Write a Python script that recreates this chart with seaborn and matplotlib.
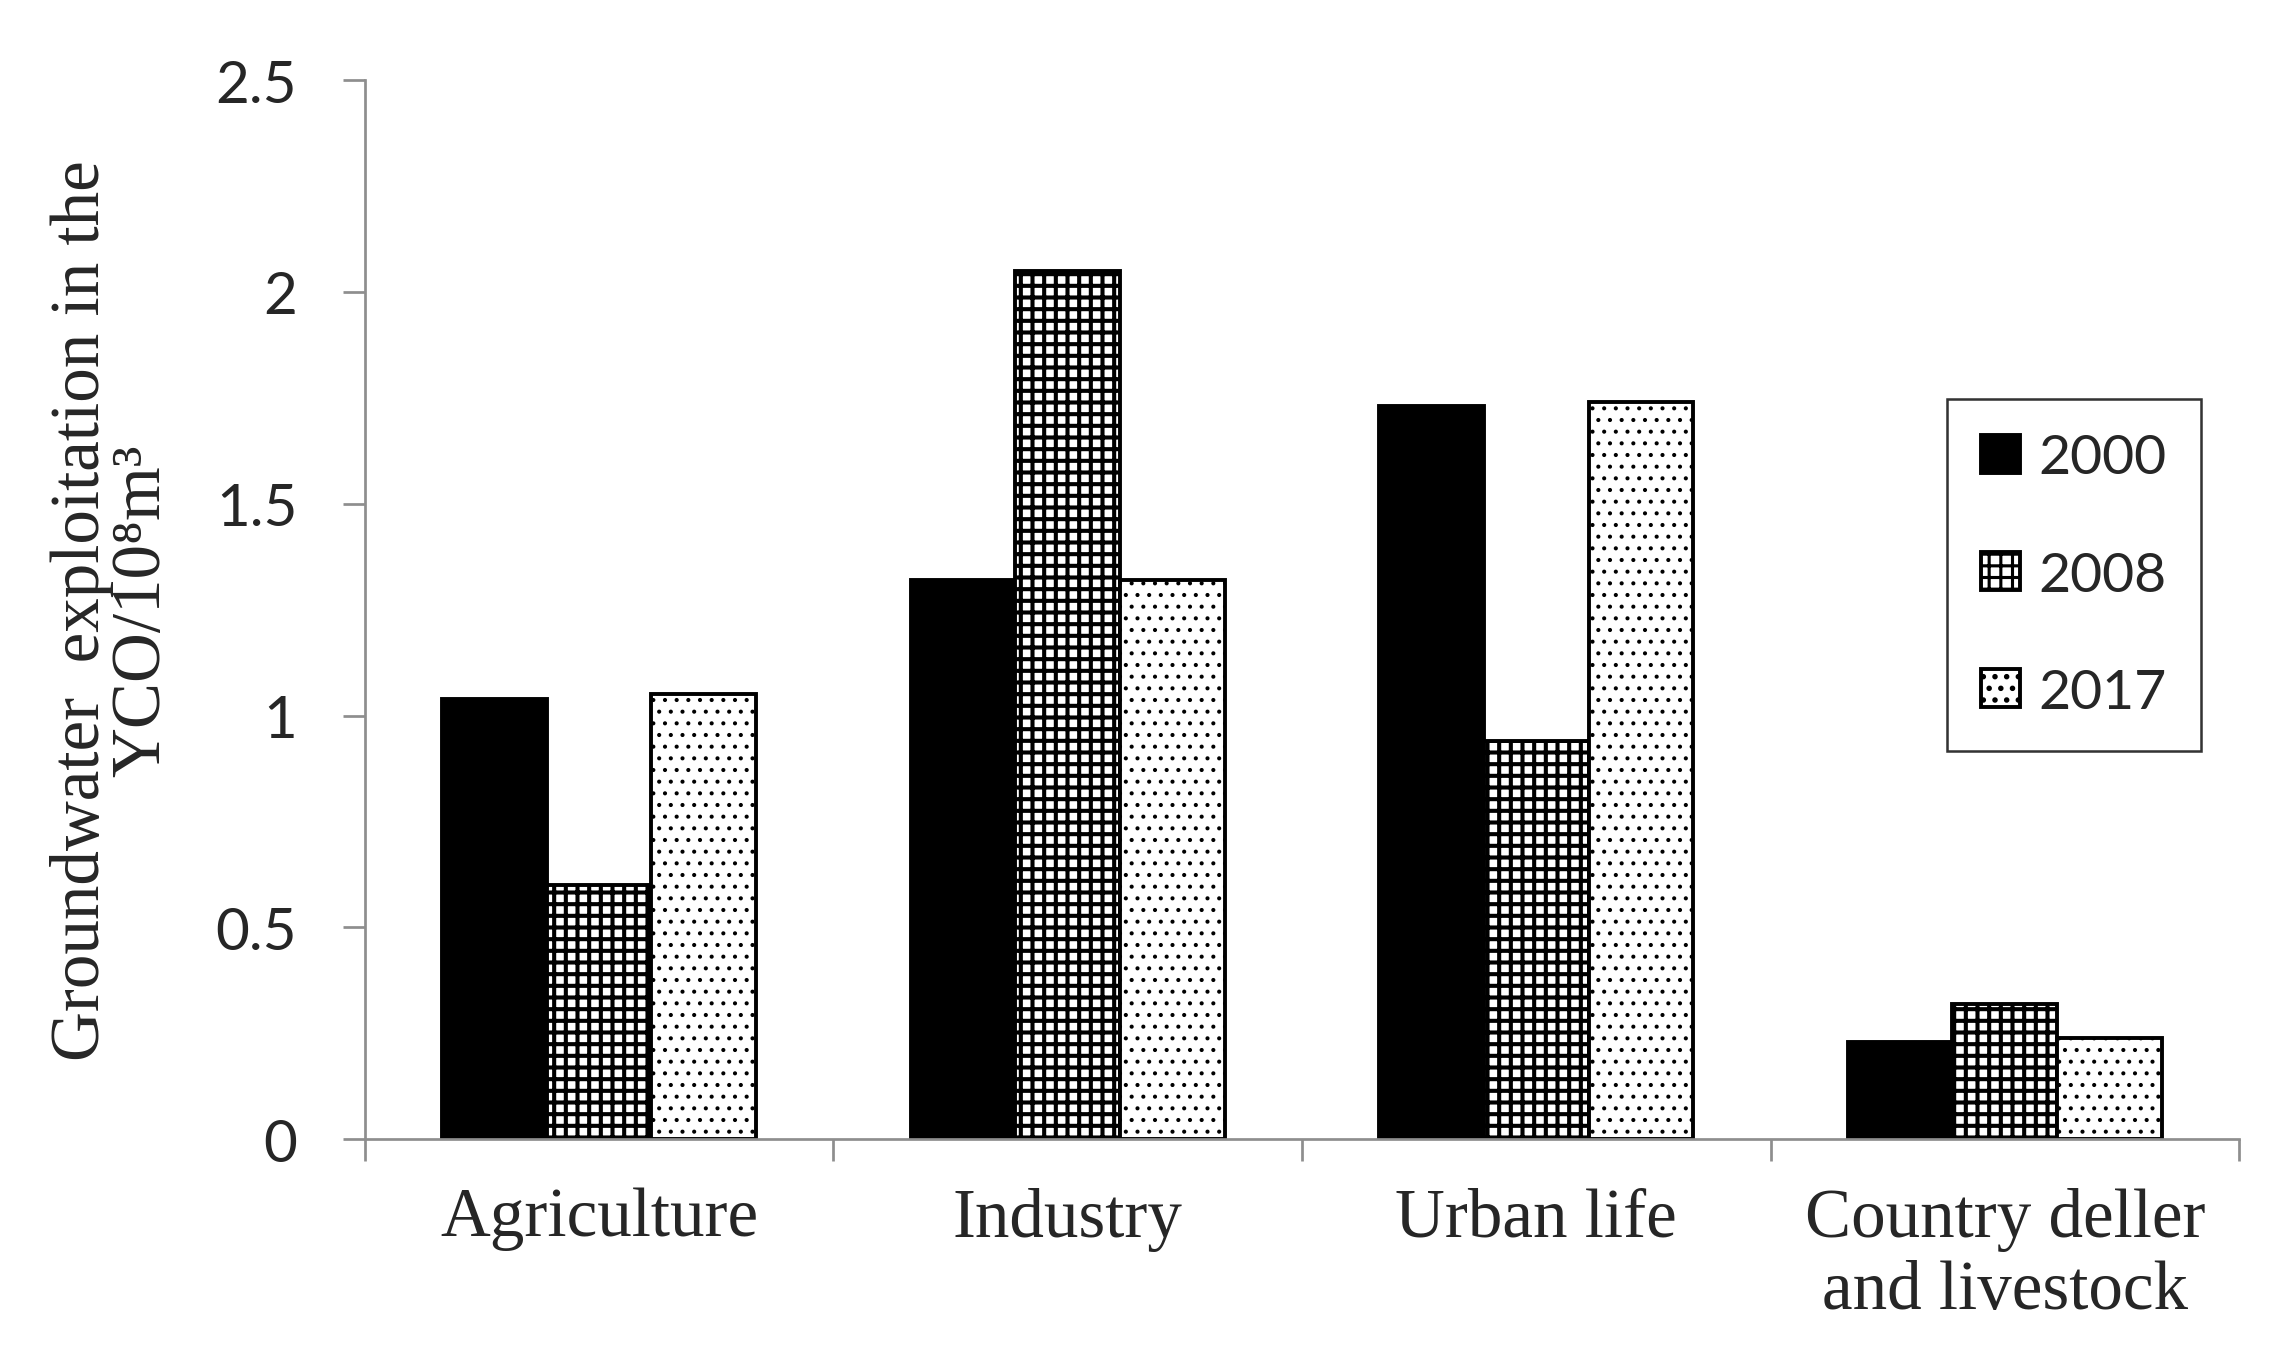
import matplotlib
matplotlib.use("Agg")
import matplotlib.pyplot as plt
import seaborn as sns
import pandas as pd
from matplotlib.ticker import FuncFormatter

# values (10^8 m^3)
sectors = ["Agriculture", "Industry", "Urban life", "Country deller\nand livestock"]
years = ["2000", "2008", "2017"]
v2000 = [1.04, 1.32, 1.73, 0.23]
v2008 = [0.60, 2.05, 0.94, 0.32]
v2017 = [1.05, 1.32, 1.74, 0.24]
yticks = [0, 0.5, 1, 1.5, 2, 2.5]

rows = []
for yr, vals in zip(years, [v2000, v2008, v2017]):
    for s, v in zip(sectors, vals):
        rows.append({"sector": s, "year": yr, "value": v})
df = pd.DataFrame(rows)

sns.set_style("white")
plt.rcParams["font.family"] = ["Liberation Serif", "DejaVu Serif"]
plt.rcParams["hatch.linewidth"] = 1.6

gray = "#8e8e8e"
DPI = 140
fig = plt.figure(figsize=(2275 / DPI, 1364 / DPI), dpi=DPI)
ax = fig.add_axes([0.1604, 0.164, 0.9842 - 0.1604, 0.9406 - 0.164])

sns.barplot(
    data=df, x="sector", y="value", hue="year",
    palette=["black", "white", "white"], saturation=1,
    width=0.67, edgecolor="black", linewidth=2.0,
    legend=False, ax=ax,
)

hatches = [None, "++", ".."]
hatch_lw = [1.0, 2.1, 0.9]
for cont, h, hl in zip(ax.containers, hatches, hatch_lw):
    for p in cont.patches:
        if h:
            p.set_hatch(h)
        if hasattr(p, "set_hatch_linewidth"):
            p.set_hatch_linewidth(hl)
        else:
            p._hatch_linewidth = hl
    cont.set_label(None)

ax.set_ylim(0, 2.5)
ax.set_xlim(-0.5, 3.5)
ax.set_yticks(yticks)
ax.yaxis.set_major_formatter(FuncFormatter(lambda v, _: f"{v:g}"))

sns.despine(ax=ax, top=True, right=True)
for side in ["left", "bottom"]:
    ax.spines[side].set_color(gray)
    ax.spines[side].set_linewidth(1.4)

ax.set_xticks(range(len(sectors)))
ax.set_xticklabels(sectors, fontsize=35.5, family=["Liberation Serif"])
ax.set_xticks([-0.5, 0.5, 1.5, 2.5, 3.5], minor=True)
ax.tick_params(axis="x", which="major", bottom=True, length=0, pad=24.5)
ax.tick_params(axis="x", which="minor", bottom=True, length=11.3, width=1.4,
               color=gray, direction="out")
ax.tick_params(axis="y", which="major", left=True, length=11.3, width=1.4,
               color=gray, direction="out", pad=23.5)
for lab in ax.get_yticklabels():
    lab.set_family(["Lato", "DejaVu Sans"])
    lab.set_fontsize(30)
ax.get_xticklabels()[3].set_linespacing(1.18)

ax.set_xlabel("")
ax.set_ylabel("Groundwater  exploitation in the\nYCO/10\u2078m\u00b3",
              fontsize=35.5, linespacing=0.93)
ax.yaxis.set_label_coords(-0.1016, 0.5)

leg = ax.legend(
    handles=[c.patches[0] for c in ax.containers], labels=years,
    loc="upper left", bbox_to_anchor=(1947 / 2275, 1 - 400 / 1364),
    bbox_transform=fig.transFigure, borderaxespad=0,
    prop={"family": "Lato", "size": 28.5},
    handlelength=0.69, handleheight=0.69, handletextpad=0.33,
    labelspacing=1.23, borderpad=0.62, fancybox=False, frameon=True,
)
leg.get_frame().set_edgecolor("black")
leg.get_frame().set_linewidth(1.3)

fig.savefig("out.png", dpi=DPI, facecolor="white")
